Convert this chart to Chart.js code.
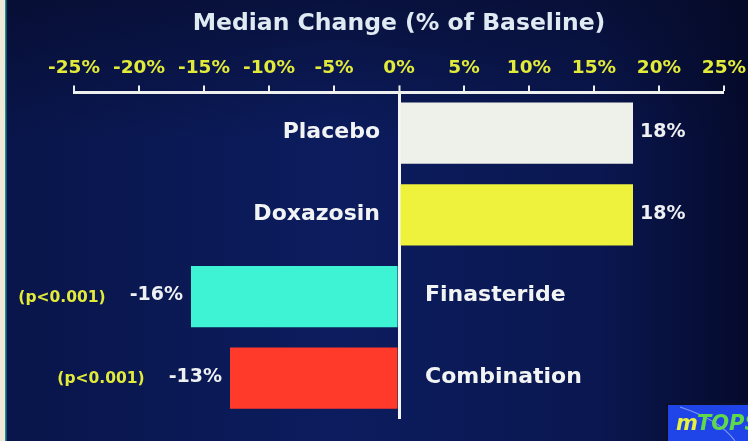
<!DOCTYPE html>
<html>
<head>
<meta charset="utf-8">
<script src="https://cdn.jsdelivr.net/npm/chart.js@4.4.1/dist/chart.umd.min.js"></script>
<style>
  html, body { margin: 0; padding: 0; background: #0a1748; }
  #wrap { width: 748px; height: 441px; }
</style>
</head>
<body>
<div id="wrap"><canvas id="medianChart" width="748" height="441"></canvas></div>
<script>
const categories = ['Placebo', 'Doxazosin', 'Finasteride', 'Combination'];
const medianChange = [18, 18, -16, -13];
const pValues = ['', '', '(p<0.001)', '(p<0.001)'];
const barColors = ['#eef1ea', '#eef23c', '#3df3d3', '#ff3a2b'];

const axisMin = -25;
const axisMax = 25;
const axisStep = 5;

const FONT = 'DejaVu Sans';

// background, side strip, labels beside the bars and the little logo
const slidePlugin = {
    id: 'slide',
    beforeDraw(chart) {
        const ctx = chart.ctx;
        const w = chart.width, h = chart.height;
        ctx.save();
        const g = ctx.createLinearGradient(0, 0, w, 0);
        g.addColorStop(0, '#09154a');
        g.addColorStop(0.45, '#0c1c5e');
        g.addColorStop(0.8, '#0a1750');
        g.addColorStop(1, '#050a2c');
        ctx.fillStyle = g;
        ctx.fillRect(0, 0, w, h);
        // darker band towards the top
        const v = ctx.createLinearGradient(0, 0, 0, 140);
        v.addColorStop(0, 'rgba(6,10,36,0.55)');
        v.addColorStop(1, 'rgba(6,10,36,0)');
        ctx.fillStyle = v;
        ctx.fillRect(0, 0, w, 140);
        // frame edge on the left
        ctx.fillStyle = '#efe8d6';
        ctx.fillRect(0, 0, 5, h);
        ctx.fillStyle = '#1d8e96';
        ctx.fillRect(5, 0, 1.5, h);
        ctx.restore();
    },
    afterDraw(chart) {
        const ctx = chart.ctx;
        const x = chart.scales.x, y = chart.scales.y;
        const zeroX = x.getPixelForValue(0);
        ctx.save();
        ctx.textBaseline = 'middle';
        medianChange.forEach((v, i) => {
            const cy = y.getPixelForValue(i) - 1;
            const endX = x.getPixelForValue(v);
            const valueText = v + '%';

            ctx.font = 'bold 22px ' + FONT;
            ctx.fillStyle = '#f2f4f4';
            if (v >= 0) {
                ctx.textAlign = 'right';
                ctx.fillText(categories[i], zeroX - 19, cy);
            } else {
                ctx.textAlign = 'left';
                ctx.fillText(categories[i], zeroX + 26, cy);
            }

            ctx.font = 'bold 19px ' + FONT;
            ctx.fillStyle = '#eef0f2';
            if (v >= 0) {
                ctx.textAlign = 'left';
                ctx.fillText(valueText, endX + 7, cy);
            } else {
                ctx.textAlign = 'right';
                ctx.fillText(valueText, endX - 8, cy);
                const vw = ctx.measureText(valueText).width;
                if (pValues[i]) {
                    ctx.font = 'bold 15.5px ' + FONT;
                    ctx.fillStyle = '#e2ea3a';
                    ctx.fillText(pValues[i], endX - 8 - vw - 24, cy + 2);
                }
            }
        });

        // logo box, bottom right
        ctx.fillStyle = '#0a0f2a';
        ctx.fillRect(666, 403, 82, 38);
        ctx.fillStyle = '#1f44e8';
        ctx.fillRect(668, 405, 80, 36);
        ctx.strokeStyle = 'rgba(200,220,255,0.55)';
        ctx.lineWidth = 1.2;
        ctx.beginPath();
        ctx.moveTo(680, 407);
        ctx.quadraticCurveTo(720, 420, 735, 441);
        ctx.stroke();
        ctx.textAlign = 'left';
        ctx.font = 'italic bold 21px ' + FONT;
        ctx.fillStyle = '#e8f23a';
        ctx.fillText('m', 676, 425);
        const mw = ctx.measureText('m').width;
        ctx.fillStyle = '#5fd84a';
        ctx.fillText('TOPS', 676 + mw - 1, 425);
        ctx.restore();
    }
};

new Chart(document.getElementById('medianChart'), {
    type: 'bar',
    data: {
        labels: categories,
        datasets: [{
            data: medianChange,
            backgroundColor: barColors,
            borderWidth: 0,
            categoryPercentage: 1,
            barPercentage: 0.75
        }]
    },
    options: {
        indexAxis: 'y',
        responsive: false,
        animation: false,
        devicePixelRatio: 1,
        layout: { padding: { left: 74, right: 24, top: 0, bottom: 22 } },
        plugins: {
            legend: { display: false },
            tooltip: { enabled: false },
            title: {
                display: true,
                text: 'Median Change (% of Baseline)',
                color: '#dfeaf2',
                font: { family: FONT, size: 23.5, weight: 'bold' },
                padding: { top: 10, bottom: 13 }
            }
        },
        scales: {
            x: {
                position: 'top',
                min: axisMin,
                max: axisMax,
                z: 1,
                // edge labels may hang past the axis ends
                afterFit: (scale) => { scale.paddingLeft = 0; scale.paddingRight = 0; },
                ticks: {
                    stepSize: axisStep,
                    color: '#e2ea3a',
                    font: { family: FONT, size: 18.5, weight: 'bold' },
                    padding: 6,
                    maxRotation: 0,
                    callback: (v) => v + '%'
                },
                grid: {
                    drawOnChartArea: true,
                    color: (c) => c.tick && c.tick.value === 0 ? '#f4f6f6' : 'rgba(0,0,0,0)',
                    lineWidth: (c) => c.tick && c.tick.value === 0 ? 3 : 0,
                    tickColor: '#eef0f0',
                    tickWidth: 2,
                    tickLength: 7
                },
                border: { color: '#eef0f0', width: 3 }
            },
            y: {
                display: false
            }
        }
    },
    plugins: [slidePlugin]
});
</script>
</body>
</html>
